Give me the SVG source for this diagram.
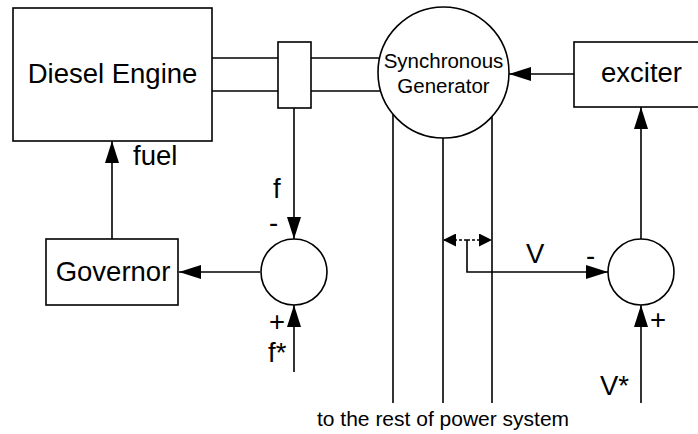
<svg xmlns="http://www.w3.org/2000/svg" width="698" height="434" viewBox="0 0 698 434">
<style>
.box{fill:#fff;stroke:#000;stroke-width:1.6}
.ln{fill:none;stroke:#000;stroke-width:1.6}
.t{font-family:"Liberation Sans",Arial,sans-serif;font-size:27.5px;fill:#000}
.s{font-family:"Liberation Sans",Arial,sans-serif;font-size:20.5px;fill:#000}
.b{font-family:"Liberation Sans",Arial,sans-serif;font-size:21px;fill:#000}
</style>
<defs>
<marker id="ah" markerUnits="userSpaceOnUse" markerWidth="22" markerHeight="14" refX="22" refY="7" orient="auto"><path d="M0,0 L22,7 L0,14 z" fill="#000"/></marker>
<marker id="sa" markerUnits="userSpaceOnUse" markerWidth="13" markerHeight="13" refX="13" refY="6.5" orient="auto"><path d="M0,0 L13,6.5 L0,13 z" fill="#000"/></marker>
</defs>
<rect width="698" height="434" fill="#fff"/>
<g id="connectors">
<line class="ln" x1="212" y1="58" x2="278" y2="58"/>
<line class="ln" x1="212" y1="91" x2="278" y2="91"/>
<line class="ln" x1="311" y1="58" x2="380" y2="58"/>
<line class="ln" x1="311" y1="91" x2="382" y2="91"/>
<line class="ln" x1="294" y1="108" x2="294" y2="239" marker-end="url(#ah)"/>
<line class="ln" x1="112" y1="239" x2="112" y2="141" marker-end="url(#ah)"/>
<line class="ln" x1="260" y1="272" x2="179" y2="272" marker-end="url(#ah)"/>
<line class="ln" x1="294" y1="372" x2="294" y2="305" marker-end="url(#ah)"/>
<line class="ln" x1="393" y1="114" x2="393" y2="403"/>
<line class="ln" x1="443" y1="137" x2="443" y2="403"/>
<line class="ln" x1="492" y1="115" x2="492" y2="403"/>
<line class="ln" x1="467" y1="240" x2="443" y2="240" stroke-dasharray="3,2" marker-end="url(#sa)"/>
<line class="ln" x1="467" y1="240" x2="492" y2="240" stroke-dasharray="3,2" marker-end="url(#sa)"/>
<path class="ln" d="M467,240 V272 H608" marker-end="url(#ah)"/>
<line class="ln" x1="641" y1="403" x2="641" y2="305" marker-end="url(#ah)"/>
<line class="ln" x1="641" y1="239" x2="641" y2="107" marker-end="url(#ah)"/>
<line class="ln" x1="574" y1="74" x2="509" y2="74" marker-end="url(#ah)"/>
</g>
<g id="diesel-engine">
<rect class="box" x="13" y="8" width="199" height="133"/>
<text class="t" x="112.5" y="83" text-anchor="middle">Diesel Engine</text>
</g>
<g id="coupling">
<rect class="box" x="278" y="42" width="33" height="66"/>
</g>
<g id="generator">
<circle class="box" cx="443.5" cy="72.5" r="65.5"/>
<text class="s" x="443.5" y="68" text-anchor="middle">Synchronous</text>
<text class="s" x="443.5" y="93" text-anchor="middle">Generator</text>
</g>
<g id="exciter">
<rect class="box" x="574" y="42" width="130" height="65"/>
<text class="t" x="601" y="82">exciter</text>
</g>
<g id="governor">
<rect class="box" x="46" y="239" width="132" height="66"/>
<text class="t" x="113" y="281" text-anchor="middle">Governor</text>
</g>
<g id="sum-f">
<circle class="box" cx="294" cy="272" r="33"/>
</g>
<g id="sum-v">
<circle class="box" cx="641" cy="272" r="33"/>
</g>
<g id="labels">
<text class="t" x="133" y="165">fuel</text>
<text class="t" x="273" y="198">f</text>
<text class="t" x="269" y="232">-</text>
<text class="t" x="269" y="331">+</text>
<text class="t" x="268" y="362">f*</text>
<text class="t" x="526" y="263">V</text>
<text class="t" x="586" y="265">-</text>
<text class="t" x="650" y="329">+</text>
<text class="t" x="600" y="395">V*</text>
<text class="b" x="317" y="426">to the rest of power system</text>
</g>
</svg>
